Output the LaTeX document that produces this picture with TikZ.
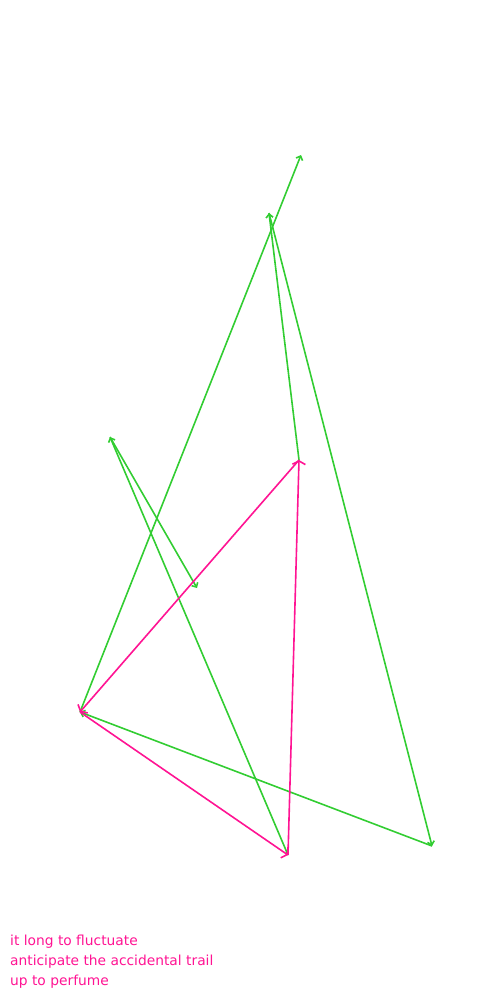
\documentclass[tikz,border=0pt]{standalone}
\usepackage{fontspec}
\setmainfont{DejaVu Sans}
\usetikzlibrary{arrows.meta}
\definecolor{gr}{RGB}{50,205,50}
\definecolor{pk}{RGB}{255,20,147}
\begin{document}
\begin{tikzpicture}[x=1pt,y=-1pt,
  gedge/.style={draw=gr,line width=1.6pt,-{Straight Barb[length=3.5pt,width=7pt]}},
  pedge/.style={draw=pk,line width=1.6pt,-{Straight Barb[length=3.5pt,width=13pt]}},
  lbl/.style={text=pk,font=\fontsize{13.8}{20}\selectfont,align=left,anchor=north west,inner sep=0pt}]
\useasboundingbox (0,0) rectangle (500,1000);
\coordinate (a) at (301,155);
\coordinate (b) at (269,213);
\coordinate (c) at (110,437);
\coordinate (d) at (197,588);
\coordinate (e) at (299,460);
\coordinate (f) at (80,712);
\coordinate (g) at (288,855);
\coordinate (h) at (432,846);
\draw[gedge] (f) -- (a);
\draw[gedge] (e) -- (b);
\draw[gedge] (b) -- (h);
\draw[gedge] (c) -- (d);
\draw[gedge] (g) -- (c);
\draw[gedge] (h) -- (f);
\draw[pedge] (e) -- (f);
\draw[pedge] (f) -- (g);
\draw[pedge] (g) -- (e);
\node[lbl] (t) at (10,935) {it long to fluctuate\\anticipate the accidental trail\\up to perfume};
\end{tikzpicture}
\end{document}
